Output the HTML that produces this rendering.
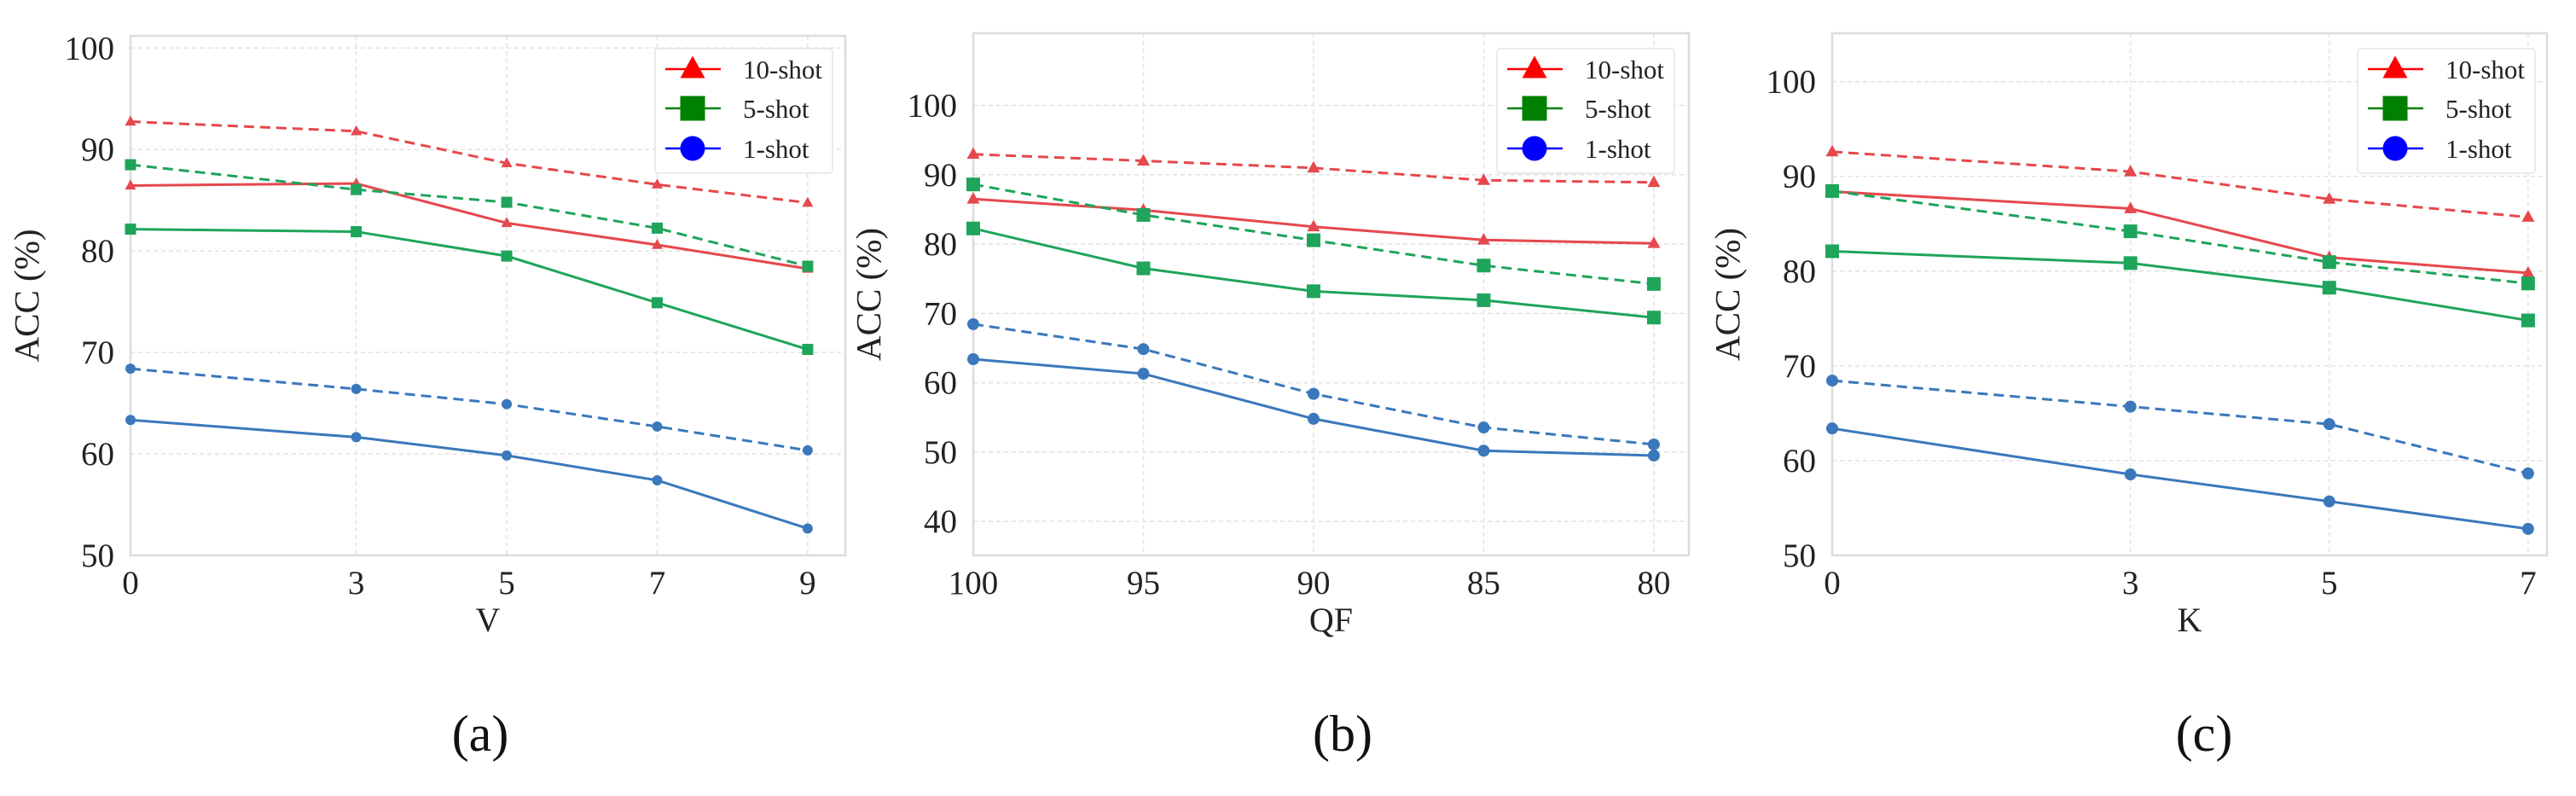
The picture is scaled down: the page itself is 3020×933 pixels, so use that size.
<!DOCTYPE html>
<html><head><meta charset="utf-8">
<style>
html,body{margin:0;padding:0;background:#fff;}
svg{display:block;font-family:"Liberation Serif",serif;}
</style></head>
<body>
<svg id="fig" width="3020" height="933" viewBox="0 0 3020 933" xmlns="http://www.w3.org/2000/svg"></svg>
<script>
// Panel (a): V
const aCategories = [0, 3, 5, 7, 9];
const a10Dashed = [92.75, 91.8, 88.65, 86.55, 84.75];
const a10Solid  = [86.45, 86.65, 82.75, 80.6, 78.25];
const a5Dashed  = [88.5, 86.05, 84.8, 82.25, 78.5];
const a5Solid   = [82.15, 81.9, 79.5, 74.9, 70.3];
const a1Dashed  = [68.4, 66.4, 64.9, 62.7, 60.35];
const a1Solid   = [63.35, 61.65, 59.85, 57.4, 52.65];
const aYTicks = [50, 60, 70, 80, 90, 100];
// Panel (b): QF
const bCategories = [100, 95, 90, 85, 80];
const b10Dashed = [92.96, 92.0, 90.98, 89.2, 88.9];
const b10Solid  = [86.5, 84.9, 82.5, 80.6, 80.1];
const b5Dashed  = [88.6, 84.2, 80.55, 76.9, 74.25];
const b5Solid   = [82.25, 76.5, 73.2, 71.9, 69.4];
const b1Dashed  = [68.45, 64.85, 58.4, 53.55, 51.1];
const b1Solid   = [63.4, 61.3, 54.8, 50.2, 49.5];
const bYTicks = [40, 50, 60, 70, 80, 90, 100];
// Panel (c): K
const cCategories = [0, 3, 5, 7];
const c10Dashed = [92.6, 90.5, 87.6, 85.7];
const c10Solid  = [88.4, 86.6, 81.45, 79.8];
const c5Dashed  = [88.45, 84.2, 80.95, 78.7];
const c5Solid   = [82.1, 80.85, 78.25, 74.8];
const c1Dashed  = [68.45, 65.7, 63.85, 58.65];
const c1Solid   = [63.4, 58.55, 55.7, 52.8];
const cYTicks = [50, 60, 70, 80, 90, 100];

const legendLabels = ['10-shot', '5-shot', '1-shot'];

const NS = 'http://www.w3.org/2000/svg';
const svg = document.getElementById('fig');
function mk(tag, attrs, parent){
  const e = document.createElementNS(NS, tag);
  for (const k in attrs) e.setAttribute(k, attrs[k]);
  (parent || svg).appendChild(e);
  return e;
}
const RED = '#e5484d', GREEN = '#1fa45b', BLUE = '#3a78bb';

function marker(g, type, x, y, s, color){
  let m;
  if (type === 'tri') {
    const h = s * 0.9;
    m = mk('polygon', {points: `${x},${y - h*0.6} ${x - s/2},${y + h*0.4} ${x + s/2},${y + h*0.4}`, fill: color}, g);
  } else if (type === 'sq') {
    m = mk('rect', {x: x - s/2, y: y - s/2, width: s, height: s, fill: color}, g);
  } else {
    m = mk('circle', {cx: x, cy: y, r: s/2, fill: color}, g);
  }
  return m;
}

function panel(cfg){
  const g = mk('g', {});
  
  
  const X = v => cfg.L + (v - cfg.xmin) / (cfg.xmax - cfg.xmin) * (cfg.R - cfg.L);
  const Y = v => cfg.B - (v - cfg.ymin) / (cfg.ymax - cfg.ymin) * (cfg.B - cfg.T);
  cfg.cats.forEach(c => {
    const l = mk('line', {x1: X(c), x2: X(c), y1: cfg.T, y2: cfg.B, stroke: '#e2e2e2', 'stroke-width': 1.5, 'stroke-dasharray': '5,4'}, g);
    
    
  });
  cfg.yticks.forEach(t => {
    const l = mk('line', {x1: cfg.L, x2: cfg.R, y1: Y(t), y2: Y(t), stroke: '#e2e2e2', 'stroke-width': 1.5, 'stroke-dasharray': '5,4'}, g);
    
    
    const tx = mk('text', {x: cfg.L - 19, y: Y(t) + 13, 'text-anchor': 'end', 'font-size': 39, fill: '#222'}, g);
    tx.textContent = t;
    
    
  });
  const fr = mk('rect', {x: cfg.L, y: cfg.T, width: cfg.R - cfg.L, height: cfg.B - cfg.T, fill: 'none', stroke: '#dcdcdc', 'stroke-width': 2.5}, g);
  
  
  cfg.cats.forEach(c => {
    const tx = mk('text', {x: X(c), y: cfg.B + 45, 'text-anchor': 'middle', 'font-size': 39, fill: '#222'}, g);
    tx.textContent = c;
    
    
  });
  const xl = mk('text', {x: (cfg.L + cfg.R) / 2, y: 740, 'text-anchor': 'middle', 'font-size': 40, fill: '#222'}, g);
  xl.textContent = cfg.xlabel;
  
  
  const yl = mk('text', {x: 0, y: 0, 'text-anchor': 'middle', 'font-size': 41, fill: '#222', transform: `translate(${cfg.ylx},${(cfg.T + cfg.B)/2}) rotate(-90)`}, g);
  yl.textContent = 'ACC (%)';
  
  
  const cap = mk('text', {x: cfg.capX, y: 880, 'text-anchor': 'middle', 'font-size': 60, fill: '#111'}, g);
  cap.textContent = cfg.caption;
  
  
  cfg.series.forEach(s => {
    const pts = cfg.cats.map((c, i) => X(c) + ',' + Y(s.vals[i])).join(' ');
    const pl = mk('polyline', {points: pts, fill: 'none', stroke: s.color, 'stroke-width': 3, 'stroke-dasharray': s.dashed ? '12,7' : 'none'}, g);
    
    
    cfg.cats.forEach((c, i) => {
      const m = marker(g, s.mk, X(c), Y(s.vals[i]), s.size, s.color);
      
      
    });
  });
  const lg = mk('g', {}, g);
  
  
  mk('rect', {x: cfg.lx, y: 57, width: 208, height: 146, rx: 4, fill: '#fff', stroke: '#e4e4e4', 'stroke-width': 1.5}, lg);
  const lc = ['#ff0000', '#008000', '#0000ff'];
  const lm = ['tri', 'sq', 'circ'];
  const ly = [81, 127, 174];
  legendLabels.forEach((lab, i) => {
    const e = mk('g', {}, lg);
    
    
    mk('line', {x1: cfg.lx + 12, x2: cfg.lx + 77, y1: ly[i], y2: ly[i], stroke: lc[i], 'stroke-width': 2.5}, e);
    marker(e, lm[i], cfg.lx + 44, ly[i], 29, lc[i]);
    const t = mk('text', {x: cfg.lx + 103, y: ly[i] + 11, 'font-size': 31, fill: '#222'}, e);
    t.textContent = lab;
  });
}

function seriesOf(d10, s10, d5, s5, d1, s1, sz){
  return [
    {name: 'ten-shot-dashed', vals: d10, color: RED, dashed: true, mk: 'tri', size: sz[0]},
    {name: 'ten-shot-solid', vals: s10, color: RED, dashed: false, mk: 'tri', size: sz[0]},
    {name: 'five-shot-dashed', vals: d5, color: GREEN, dashed: true, mk: 'sq', size: sz[1]},
    {name: 'five-shot-solid', vals: s5, color: GREEN, dashed: false, mk: 'sq', size: sz[1]},
    {name: 'one-shot-dashed', vals: d1, color: BLUE, dashed: true, mk: 'circ', size: sz[2]},
    {name: 'one-shot-solid', vals: s1, color: BLUE, dashed: false, mk: 'circ', size: sz[2]}
  ];
}

panel({name: 'panel-a', L: 153, R: 991, T: 42, B: 651, xmin: 0, xmax: 9.5, ymin: 50, ymax: 101.2,
  cats: aCategories, yticks: aYTicks, xlabel: 'V', ylx: 45, capX: 563, caption: '(a)', lx: 768,
  series: seriesOf(a10Dashed, a10Solid, a5Dashed, a5Solid, a1Dashed, a1Solid, [13, 13, 12])});
panel({name: 'panel-b', L: 1141, R: 1980, T: 39, B: 651, xmin: 100, xmax: 78.97, ymin: 35.1, ymax: 110.4,
  cats: bCategories, yticks: bYTicks, xlabel: 'QF', ylx: 1032, capX: 1574, caption: '(b)', lx: 1755,
  series: seriesOf(b10Dashed, b10Solid, b5Dashed, b5Solid, b1Dashed, b1Solid, [15, 16, 14])});
panel({name: 'panel-c', L: 2148, R: 2986, T: 39, B: 651, xmin: 0, xmax: 7.19, ymin: 50, ymax: 105.1,
  cats: cCategories, yticks: cYTicks, xlabel: 'K', ylx: 2039, capX: 2584, caption: '(c)', lx: 2764,
  series: seriesOf(c10Dashed, c10Solid, c5Dashed, c5Solid, c1Dashed, c1Solid, [15, 16, 14])});
</script>
</body></html>
